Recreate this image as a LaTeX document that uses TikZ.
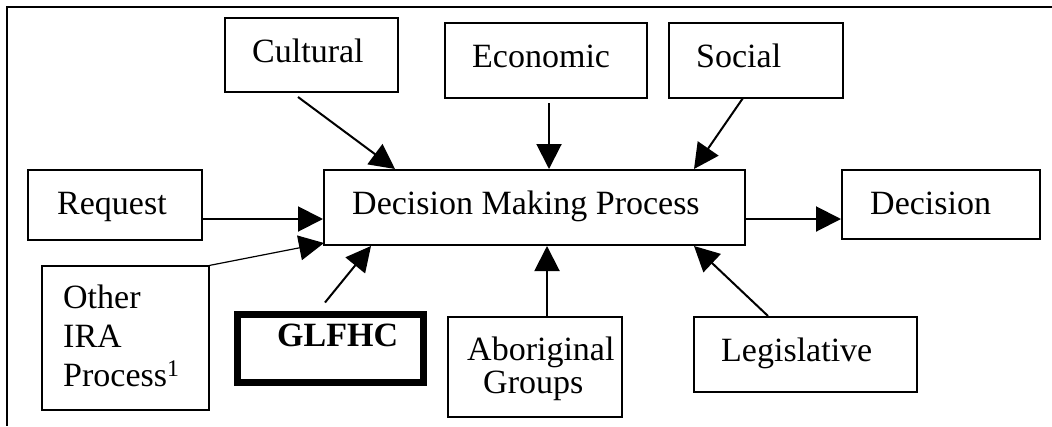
\documentclass[tikz,border=0pt]{standalone}
\usepackage{fontspec}
\setmainfont{Liberation Serif}
\usetikzlibrary{arrows.meta}
\begin{document}
\begin{tikzpicture}[x=1pt,y=-1pt,
  box/.style={draw,line width=2pt,rectangle,inner sep=0pt},
  thinbox/.style={draw,line width=1.2pt,rectangle,inner sep=0pt},
  thickbox/.style={draw,line width=7pt,rectangle,inner sep=0pt},
  lbl/.style={inner sep=0pt,anchor=base west,font=\fontsize{34}{39}\selectfont},
  arr/.style={line width=2pt,-{Triangle[length=25pt,width=25pt]}},
  frame/.style={line width=2pt}]
\useasboundingbox (0,0) rectangle (1052,426);
\coordinate (ftr) at (1052,7);
\coordinate (ftl) at (7,7);
\coordinate (fbl) at (7,426);
\draw[frame] (ftr) -- (ftl) -- (fbl);
% boxes
\node[box,minimum width=173pt,minimum height=74pt] (cult) at (311.5,55) {};
\node[box,minimum width=202pt,minimum height=75pt] (econ) at (546,60.5) {};
\node[box,minimum width=174pt,minimum height=75pt] (soc) at (756,60.5) {};
\node[box,minimum width=174pt,minimum height=70pt] (req) at (115,205) {};
\node[box,minimum width=421pt,minimum height=75pt] (dmp) at (534.5,207.5) {};
\node[box,minimum width=198pt,minimum height=69pt] (dec) at (941,204.5) {};
\node[thinbox,minimum width=167pt,minimum height=144pt] (ira) at (125.5,338) {};
\node[thickbox,minimum width=186pt,minimum height=68pt] (glf) at (330,348) {};
\node[box,minimum width=174pt,minimum height=100pt] (abo) at (535,367) {};
\node[box,minimum width=223pt,minimum height=75pt] (leg) at (805.5,354.5) {};
% texts
\node[lbl] (tcult) at (252,62) {Cultural};
\node[lbl] (tecon) at (472,67) {Economic};
\node[lbl] (tsoc) at (696,67) {Social};
\node[lbl] (treq) at (57,214) {Request};
\node[lbl] (tdmp) at (352,214) {Decision Making Process};
\node[lbl] (tdec) at (870,214) {Decision};
\node[lbl,align=left] (tira) at (63,386) {Other\\IRA\\Process\textsuperscript{1}};
\node[lbl] (tglf) at (277,346) {\textbf{GLFHC}};
\node[lbl,align=left,font=\fontsize{34}{33}\selectfont] (tabo) at (467,393) {Aboriginal\\\hspace*{16pt}Groups};
\node[lbl] (tleg) at (721,361) {Legislative};
% arrows
\draw[arr] ([xshift=-13.5pt,yshift=-4pt]cult.south) -- ([xshift=-139.5pt]dmp.north);
\draw[arr] ([xshift=3pt,yshift=-4pt]econ.south) -- ([xshift=14.5pt]dmp.north);
\draw[arr] ([xshift=-13pt,yshift=1pt]soc.south) -- ([xshift=159.5pt]dmp.north);
\draw[arr] ([yshift=-14pt]req.east) -- ([yshift=-11.5pt]dmp.west);
\draw[line width=1.2pt,-{Triangle[length=25pt,width=25pt]}] (ira.north east) -- ([xshift=1pt,yshift=3pt]dmp.south west);
\draw[arr] ([xshift=-5pt,yshift=8pt]glf.north) -- ([xshift=-163.5pt]dmp.south);
\draw[arr] ([xshift=12pt]abo.north) -- ([xshift=12.5pt]dmp.south);
\draw[arr] ([xshift=-37.5pt]leg.north) -- ([xshift=159.5pt]dmp.south);
\draw[arr] ([yshift=-11.5pt]dmp.east) -- ([yshift=-14.5pt]dec.west);
\end{tikzpicture}
\end{document}
